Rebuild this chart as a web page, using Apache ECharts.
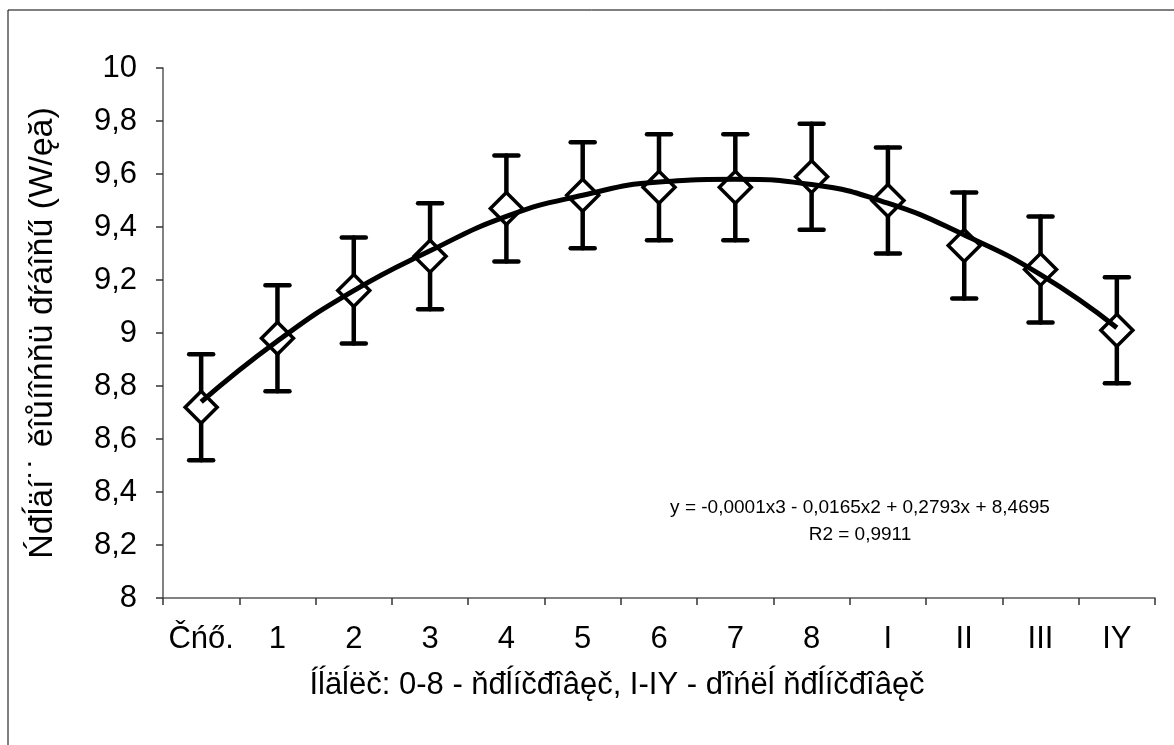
<!DOCTYPE html>
<html>
<head>
<meta charset="utf-8">
<script src="https://cdn.jsdelivr.net/npm/echarts@6/dist/echarts.min.js"></script>
<style>
  html, body { margin: 0; padding: 0; background: #fff; }
  #main { width: 1174px; height: 745px; }
</style>
</head>
<body>
<div id="main"></div>
<script>
// weeks: start, 0-8 training, I-IY after training
var categories = ['Čńő.', '1', '2', '3', '4', '5', '6', '7', '8', 'I', 'II', 'III', 'IY'];
var means = [8.72, 8.98, 9.16, 9.29, 9.47, 9.52, 9.55, 9.55, 9.59, 9.50, 9.33, 9.24, 9.01];
var errors = [0.2, 0.2, 0.2, 0.2, 0.2, 0.2, 0.2, 0.2, 0.2, 0.2, 0.2, 0.2, 0.2];
// trend curve at each week
var trend = [8.74, 8.97, 9.16, 9.31, 9.44, 9.52, 9.57, 9.58, 9.56, 9.49, 9.37, 9.22, 9.02];
var yTicks = ['8', '8,2', '8,4', '8,6', '8,8', '9', '9,2', '9,4', '9,6', '9,8', '10'];

var font = 'Liberation Sans, Arial, sans-serif';

var errData = [];
for (var i = 0; i < means.length; i++) {
    errData.push([i, means[i] - errors[i], means[i] + errors[i]]);
}

function renderError(params, api) {
    var x = api.value(0);
    var lo = api.coord([x, api.value(1)]);
    var hi = api.coord([x, api.value(2)]);
    var cap = 12;
    var st = { stroke: '#000', lineWidth: 4.5, lineCap: 'round' };
    return {
        type: 'group',
        children: [
            { type: 'line', shape: { x1: hi[0], y1: hi[1], x2: lo[0], y2: lo[1] }, style: st },
            { type: 'line', shape: { x1: hi[0] - cap, y1: hi[1], x2: hi[0] + cap, y2: hi[1] }, style: st },
            { type: 'line', shape: { x1: lo[0] - cap, y1: lo[1], x2: lo[0] + cap, y2: lo[1] }, style: st }
        ]
    };
}

var option = {
    backgroundColor: '#fff',
    animation: false,
    grid: { left: 163, right: 19, top: 68, bottom: 147 },
    xAxis: {
        type: 'category',
        data: categories,
        boundaryGap: true,
        name: 'Íĺäĺëč: 0-8 - ňđĺíčđîâęč, I-IY - ďîńëĺ ňđĺíčđîâęč',
        nameLocation: 'middle',
        nameGap: 72,
        nameTextStyle: { fontFamily: font, fontSize: 31, color: '#000', padding: [0, 84, 0, 0] },
        axisLine: { lineStyle: { color: '#595959', width: 1.5 } },
        axisTick: { show: true, interval: 0, inside: false, length: 7, lineStyle: { color: '#333', width: 1.5 } },
        axisLabel: { interval: 0, hideOverlap: false, fontFamily: font, fontSize: 31, color: '#000', margin: 26 },
        splitLine: { show: false }
    },
    yAxis: {
        type: 'value',
        min: 8,
        max: 10,
        interval: 0.2,
        name: 'Ńđĺäí˙˙ ěîůíîńňü đŕáîňű (W/ęă)',
        nameLocation: 'middle',
        nameGap: 103,
        nameTextStyle: { fontFamily: font, fontSize: 34, color: '#000' },
        axisLine: { show: true, lineStyle: { color: '#595959', width: 1.5 } },
        axisTick: { show: true, inside: false, length: 7, lineStyle: { color: '#333', width: 1.5 } },
        axisLabel: {
            fontFamily: font, fontSize: 31, color: '#000', margin: 26,
            formatter: function (v) { return yTicks[Math.round((v - 8) / 0.2)]; }
        },
        splitLine: { show: false }
    },
    series: [
        {
            type: 'custom',
            name: 'err',
            renderItem: renderError,
            data: errData,
            encode: { x: 0, y: [1, 2] },
            z: 2
        },
        {
            type: 'scatter',
            name: 'mean',
            data: means,
            symbol: 'diamond',
            symbolSize: [32, 32],
            itemStyle: { color: '#fff', borderColor: '#000', borderWidth: 3.5, opacity: 1 },
            z: 3
        },
        {
            type: 'line',
            name: 'trend',
            data: trend,
            smooth: 0.5,
            showSymbol: false,
            symbol: 'none',
            lineStyle: { color: '#000', width: 5 },
            z: 4
        }
    ],
    graphic: [
        {
            type: 'rect',
            shape: { x: 8, y: 10, width: 1300, height: 900 },
            style: { fill: 'none', stroke: '#000', lineWidth: 1 },
            silent: true,
            z: -1
        },
        {
            type: 'text',
            x: 860, y: 508,
            style: {
                text: 'y = -0,0001x3 - 0,0165x2 + 0,2793x + 8,4695',
                font: '19px ' + font, fill: '#000', align: 'center', verticalAlign: 'middle'
            }
        },
        {
            type: 'text',
            x: 860, y: 535,
            style: {
                text: 'R2 = 0,9911',
                font: '19px ' + font, fill: '#000', align: 'center', verticalAlign: 'middle'
            }
        }
    ]
};

var chart = echarts.init(document.getElementById('main'));
chart.setOption(option);
</script>
</body>
</html>
